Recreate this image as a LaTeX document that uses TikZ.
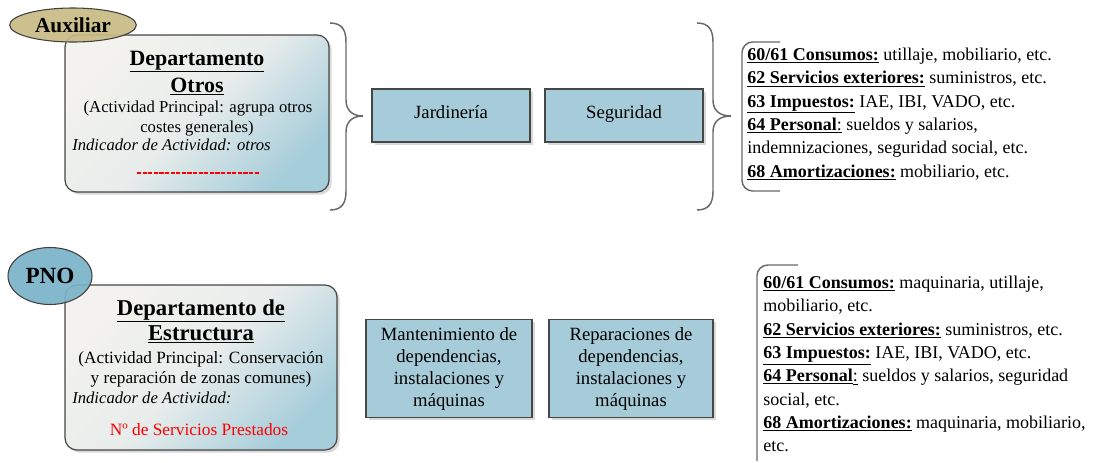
\documentclass[tikz,border=0pt]{standalone}
\usepackage{fontspec}
\setmainfont{Liberation Serif}
\usetikzlibrary{shapes.geometric,shadows}

\definecolor{auxkhaki}{RGB}{199,187,132}
\definecolor{pnoblue}{RGB}{122,178,200}
\definecolor{taskblue}{RGB}{166,204,218}
\definecolor{deptgrey}{RGB}{243,242,238}
\definecolor{deptblue}{RGB}{166,205,218}
\definecolor{edgegrey}{RGB}{70,70,70}
\definecolor{bracegrey}{RGB}{105,105,105}

\newcommand{\sz}[2]{\fontsize{#1}{#2}\selectfont}

\begin{document}
\begin{tikzpicture}[x=0.75pt, y=-0.75pt,
    dept/.style={draw=edgegrey, line width=0.9pt, rounded corners=9pt,
      top color=deptgrey, bottom color=deptblue, middle color=deptgrey!85!deptblue,
      shading angle=45,
      drop shadow={shadow xshift=2pt, shadow yshift=-2pt, opacity=0.3}},
    task/.style={draw=edgegrey, line width=1pt, fill=taskblue, align=center,
      font=\sz{14}{16.5},
      drop shadow={shadow xshift=2pt, shadow yshift=-2pt, opacity=0.3}},
    oneline/.style={text height=1.6ex, text depth=0.5ex},
    tag/.style={ellipse, draw=black!75, line width=0.8pt, inner sep=0pt,
      fill opacity=0.92, text opacity=1},
    costs/.style={anchor=north west, inner sep=0pt, align=left, font=\sz{13.5}{17.5}},
    brace/.style={draw=bracegrey, line width=1.1pt}]
  \useasboundingbox (0,0) rectangle (1112,462);

  % Auxiliar: departamento otros
  \node[dept, minimum width=198pt, minimum height=117.75pt] (otros) at (197,113.5) {};
  \node[tag, fill=auxkhaki, minimum width=95pt, minimum height=25.5pt] (aux) at (73,25)
    {\sz{16}{18}\bfseries Auxiliar};
  \node[anchor=base] (otrosA) at (197,65) {\sz{16.4}{19}\bfseries\underline{Departamento}};
  \node[anchor=base] (otrosB) at (197,92) {\sz{16.4}{19}\bfseries\underline{Otros}};
  \node[anchor=base] (otrosC) at (198,112) {\sz{12.5}{15}(Actividad Principal: agrupa otros};
  \node[anchor=base] (otrosD) at (197,132) {\sz{12.5}{15}costes generales)};
  \node[anchor=base west, inner sep=0pt] (otrosE) at (72,150)
    {\sz{12.5}{15}\itshape Indicador de Actividad: otros};
  \draw[red, line width=1pt, dash pattern=on 3.2pt off 1pt] (137,173) -- (260,173);

  \node[task, oneline, minimum width=118.5pt, minimum height=39.75pt] (jard) at (451,115.5) {Jardinería};
  \node[task, oneline, minimum width=118.5pt, minimum height=39.75pt] (segu) at (624,115.5) {Seguridad};

  \draw[brace] (330,23) .. controls (342,23) and (346,30) .. (346,42) -- (346,100)
    .. controls (346,110) and (352,116) .. (363,116)
    .. controls (352,116) and (346,122) .. (346,132) -- (346,191)
    .. controls (346,203) and (342,210) .. (330,210);
  \draw[brace] (697,23) .. controls (709,23) and (713,30) .. (713,42) -- (713,100)
    .. controls (713,110) and (719,116) .. (731,116)
    .. controls (719,116) and (713,122) .. (713,132) -- (713,191)
    .. controls (713,203) and (709,210) .. (697,210);
  \draw[brace, rounded corners=8pt] (780,42) -- (742,42) -- (742,191) -- (780,191);

  \node[costs] (costsA) at (747,47.6) {%
    \textbf{\underline{60/61 Consumos:}} utillaje, mobiliario, etc.\\
    \textbf{\underline{62 Servicios exteriores:}} suministros, etc.\\
    \textbf{\underline{63 Impuestos:}} IAE, IBI, VADO, etc.\\
    \textbf{\underline{64 Personal}}\underline{:} sueldos y salarios,\\
    indemnizaciones, seguridad social, etc.\\
    \textbf{\underline{68 Amortizaciones:}} mobiliario, etc.};

  % PNO: departamento de estructura
  \node[dept, minimum width=204pt, minimum height=123.75pt] (estr) at (201,367.5) {};
  \node[tag, fill=pnoblue, minimum width=63pt, minimum height=42.75pt] (pno) at (50,276)
    {\sz{17.4}{20}\bfseries PNO};
  \node[anchor=base] (estrA) at (201,315) {\sz{17}{20}\bfseries\underline{Departamento de}};
  \node[anchor=base] (estrB) at (201,340) {\sz{17}{20}\bfseries\underline{Estructura}};
  \node[anchor=base] (estrC) at (201,363) {\sz{12.9}{15}(Actividad Principal: Conservación};
  \node[anchor=base] (estrD) at (201,383) {\sz{12.9}{15}y reparación de zonas comunes)};
  \node[anchor=base west, inner sep=0pt] (estrE) at (72,403)
    {\sz{12.5}{15}\itshape Indicador de Actividad:};
  \node[anchor=base, text=red] (estrF) at (199,435) {\sz{13}{15}Nº de Servicios Prestados};

  \node[task, minimum width=124.5pt, minimum height=73.5pt] (mant) at (449,368.5)
    {Mantenimiento de\\dependencias,\\instalaciones y\\máquinas};
  \node[task, minimum width=123pt, minimum height=73.5pt] (repa) at (631,368.5)
    {Reparaciones de\\dependencias,\\instalaciones y\\máquinas};

  \draw[brace, rounded corners=8pt] (798,265) -- (757,265) -- (757,461);

  \node[costs] (costsB) at (763,275.6) {%
    \textbf{\underline{60/61 Consumos:}} maquinaria, utillaje,\\
    mobiliario, etc.\\
    \textbf{\underline{62 Servicios exteriores:}} suministros, etc.\\
    \textbf{\underline{63 Impuestos:}} IAE, IBI, VADO, etc.\\
    \textbf{\underline{64 Personal}}\underline{:} sueldos y salarios, seguridad\\
    social, etc.\\
    \textbf{\underline{68 Amortizaciones:}} maquinaria, mobiliario,\\
    etc.};
\end{tikzpicture}
\end{document}
